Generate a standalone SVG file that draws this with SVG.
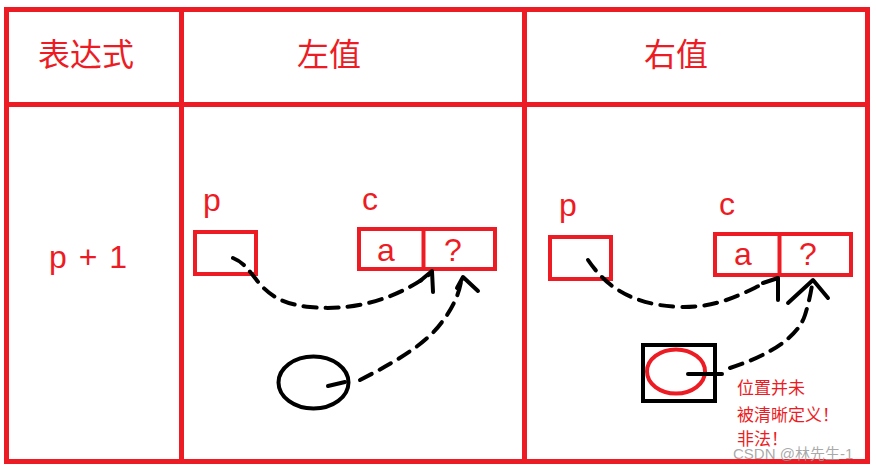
<svg xmlns="http://www.w3.org/2000/svg" width="876" height="469" viewBox="0 0 876 469">
<style>
.grid{fill:none;stroke:#ED1C24;stroke-width:5}
.box{fill:none;stroke:#ED1C24;stroke-width:4}
.t{fill:#ED1C24;font-family:"Liberation Sans",Arial,sans-serif}
.zh{fill:#ED1C24;font-family:"Noto Sans CJK SC","Microsoft YaHei",sans-serif}
.dash{fill:none;stroke:#000;stroke-width:4;stroke-dasharray:13 9;stroke-linecap:round}
.head{fill:none;stroke:#000;stroke-width:4;stroke-linecap:round;stroke-linejoin:round}
</style>
<rect width="876" height="469" fill="#fff"/>
<g id="table">
<rect class="grid" x="6.5" y="9.5" width="861" height="452"/>
<line class="grid" x1="6.5" y1="104.5" x2="867.5" y2="104.5"/>
<line class="grid" x1="181.5" y1="9.5" x2="181.5" y2="461.5"/>
<line class="grid" x1="524.5" y1="9.5" x2="524.5" y2="461.5"/>
</g>
<g id="headers">
<text class="zh" x="86" y="66" font-size="32" text-anchor="middle">表达式</text>
<text class="zh" x="329" y="66" font-size="32" text-anchor="middle">左值</text>
<text class="zh" x="676" y="66" font-size="32" text-anchor="middle">右值</text>
</g>
<g id="expr">
<text class="t" x="88" y="268" font-size="32" text-anchor="middle" word-spacing="3">p + 1</text>
</g>
<g id="left-p">
<text class="t" x="212" y="211" font-size="32" text-anchor="middle">p</text>
<rect class="box" x="195" y="232" width="61" height="42"/>
</g>
<g id="left-c">
<text class="t" x="370" y="210" font-size="32" text-anchor="middle">c</text>
<rect class="box" x="359" y="229" width="136" height="40"/>
<line class="box" x1="423.5" y1="229" x2="423.5" y2="269"/>
<text class="t" x="386" y="261" font-size="32" text-anchor="middle">a</text>
<text class="t" x="453" y="261" font-size="32" text-anchor="middle">?</text>
</g>
<g id="left-circle">
<ellipse cx="313.5" cy="382.5" rx="35" ry="26" fill="none" stroke="#000" stroke-width="4"/>
</g>
<g id="right-p">
<text class="t" x="568" y="216" font-size="32" text-anchor="middle">p</text>
<rect class="box" x="550" y="237" width="61" height="42"/>
</g>
<g id="right-c">
<text class="t" x="727" y="215" font-size="32" text-anchor="middle">c</text>
<rect class="box" x="715" y="234" width="136" height="41"/>
<line class="box" x1="779.5" y1="234" x2="779.5" y2="275"/>
<text class="t" x="743" y="265" font-size="32" text-anchor="middle">a</text>
<text class="t" x="808" y="265" font-size="32" text-anchor="middle">?</text>
</g>
<g id="right-square">
<rect x="643" y="345" width="72" height="56" fill="none" stroke="#000" stroke-width="4"/>
<ellipse cx="676" cy="371.5" rx="29" ry="22" fill="none" stroke="#ED1C24" stroke-width="4"/>
</g>
<g id="note">
<text class="zh" x="737" y="394" font-size="17">位置并未</text>
<text class="zh" x="737" y="421" font-size="17">被清晰定义！</text>
<text class="zh" x="737" y="445" font-size="17">非法！</text>
</g>
<g id="connectors">
<path class="dash" d="M233,258 C258,268 255,302 310,307 C360,312 402,295 430,274"/>
<polyline class="head" points="420,281 432,271 433,292"/>
<line class="head" x1="328" y1="386" x2="345" y2="382"/>
<path class="dash" d="M360,380 C395,362 425,345 442,322 C455,305 459,292 461,282"/>
<polyline class="head" points="457,288 463,277 478,291"/>
<path class="dash" d="M588,260 C605,285 630,305 680,307 C720,308 745,292 765,283"/>
<polyline class="head" points="763,283 778,278 778,300"/>
<line class="head" x1="688" y1="374" x2="722" y2="374"/>
<path class="dash" d="M730,368 C770,355 798,337 805,315 C809,302 811,292 812,285"/>
<polyline class="head" points="788,303 813,280 828,298"/>
</g>
<g id="watermark">
<text x="733" y="459" font-size="15" fill="#9a9a9a" fill-opacity="0.85" font-family="'Liberation Sans','Noto Sans CJK SC',sans-serif">CSDN @林先生-1</text>
</g>
</svg>
